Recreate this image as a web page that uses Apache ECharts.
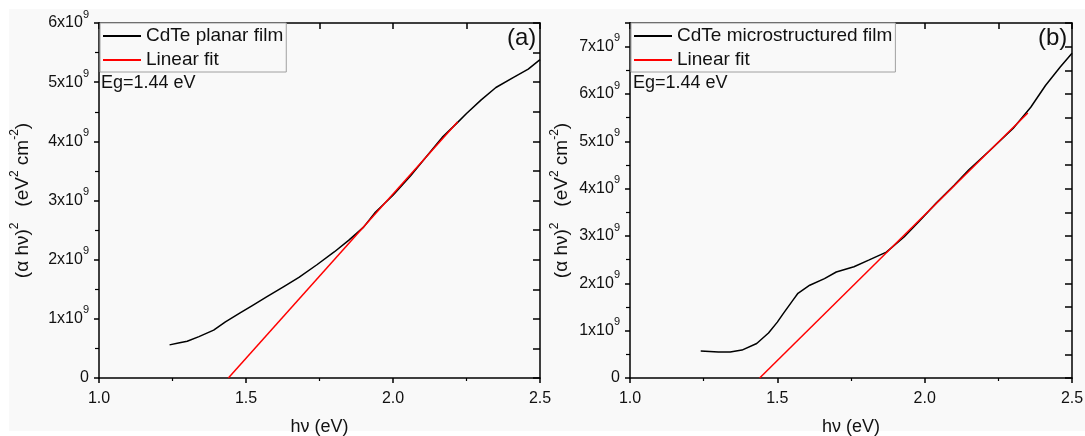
<!DOCTYPE html>
<html>
<head>
<meta charset="utf-8">
<script src="https://cdn.jsdelivr.net/npm/echarts@6/dist/echarts.min.js"></script>
<style>
  html, body { margin: 0; padding: 0; background: #ffffff; }
  #chart { width: 1085px; height: 436px; }
</style>
</head>
<body>
<div id="chart"></div>
<script>
// ---- data (x in eV, y in units of 1e9 eV^2 cm^-2) ----
const planarX = [1.24, 1.27, 1.30, 1.34, 1.39, 1.43, 1.48, 1.52, 1.57, 1.63, 1.68, 1.74, 1.80, 1.85, 1.90, 1.94, 2.00, 2.06, 2.13, 2.17, 2.22, 2.25, 2.30, 2.35, 2.41, 2.46, 2.50];
const planarY = [0.56, 0.59, 0.62, 0.70, 0.81, 0.95, 1.10, 1.22, 1.37, 1.55, 1.70, 1.91, 2.13, 2.33, 2.55, 2.80, 3.09, 3.42, 3.84, 4.08, 4.32, 4.47, 4.70, 4.91, 5.08, 5.22, 5.38];
const planarFitX = [1.44, 2.22];
const planarFitY = [0.0, 4.33];

const microX = [1.24, 1.27, 1.30, 1.34, 1.38, 1.43, 1.47, 1.50, 1.52, 1.55, 1.57, 1.61, 1.66, 1.70, 1.76, 1.81, 1.87, 1.93, 1.98, 2.04, 2.10, 2.15, 2.22, 2.30, 2.36, 2.41, 2.46, 2.50];
const microY = [0.57, 0.56, 0.55, 0.55, 0.59, 0.73, 0.95, 1.18, 1.36, 1.62, 1.79, 1.96, 2.10, 2.24, 2.35, 2.49, 2.66, 2.98, 3.30, 3.70, 4.07, 4.40, 4.80, 5.27, 5.72, 6.18, 6.57, 6.86];
const microFitX = [1.44, 2.35];
const microFitY = [0.0, 5.60];

const xTicks = [1.0, 1.5, 2.0, 2.5];
const seriesNames = ['CdTe planar film', 'CdTe microstructured film', 'Linear fit'];
const panelLabels = ['(a)', '(b)'];
const egText = 'Eg=1.44 eV';
const SCALE = 1e9;

function pairs(xs, ys) { return xs.map((x, i) => [x, ys[i] * SCALE]); }

const FONT = 'Liberation Sans, Arial, sans-serif';
const INK = '#111';

function fmtY(v) {
  if (v === 0) return '{b|0}';
  const k = v / SCALE;
  const r = Math.round(k);
  if (Math.abs(k - r) > 1e-6) return '';
  return '{b|' + r + 'x10}{s|9}';
}
const yRich = {
  b: { fontSize: 16, lineHeight: 16, fontFamily: FONT, color: INK, verticalAlign: 'middle' },
  s: { fontSize: 11, lineHeight: 11, fontFamily: FONT, color: INK, padding: [0, 0, 17, 0], verticalAlign: 'middle' }
};
const nameRich = {
  n: { fontSize: 19, lineHeight: 19, fontFamily: FONT, color: INK, verticalAlign: 'middle' },
  s: { fontSize: 12, lineHeight: 12, fontFamily: FONT, color: INK, padding: [0, 0, 15, 0], verticalAlign: 'middle' }
};
const yName = '{n|(\u03b1 h\u03bd)}{s|2}{n|   (eV}{s|2}{n| cm}{s|-2}{n|)}';

const grids = [
  { left: 99, top: 23, width: 441, height: 355, outerBoundsMode: 'none', containLabel: false },
  { left: 630, top: 23, width: 442, height: 355, outerBoundsMode: 'none', containLabel: false }
];
const yMax = [6e9, 7.5e9];
const nameGaps = [67, 45];

const xAxes = [], yAxes = [];
grids.forEach((g, i) => {
  xAxes.push({
    gridIndex: i, type: 'value', position: 'bottom', min: 1, max: 2.5, interval: 0.5,
    name: 'h\u03bd (eV)', nameLocation: 'middle', nameGap: 40,
    nameTextStyle: { fontSize: 18, fontFamily: FONT, color: INK },
    axisLine: { show: true, onZero: false, lineStyle: { color: '#000', width: 1.5 } },
    axisTick: { show: true, inside: false, length: 5, lineStyle: { color: '#000', width: 1.5 } },
    minorTick: { show: true, splitNumber: 2, length: 3, lineStyle: { color: '#000', width: 1.2 } },
    axisLabel: { show: true, margin: 13, fontSize: 16, fontFamily: FONT, color: INK,
      formatter: v => v.toFixed(1) },
    splitLine: { show: false }
  });
  xAxes.push({
    gridIndex: i, type: 'value', position: 'top', min: 1, max: 2.5, interval: 0.25,
    axisLine: { show: true, onZero: false, lineStyle: { color: '#000', width: 1.5 } },
    axisTick: { show: true, inside: true, length: 6, lineStyle: { color: '#000', width: 1.5 } },
    axisLabel: { show: false }, splitLine: { show: false }
  });
  yAxes.push({
    gridIndex: i, type: 'value', position: 'left', min: 0, max: yMax[i], interval: 1e9,
    name: yName, nameLocation: 'middle', nameRotate: 90, nameGap: nameGaps[i],
    nameTextStyle: { rich: nameRich },
    axisLine: { show: true, onZero: false, lineStyle: { color: '#000', width: 1.5 } },
    axisTick: { show: true, inside: false, length: 5, lineStyle: { color: '#000', width: 1.5 } },
    minorTick: { show: true, splitNumber: 2, length: 4, lineStyle: { color: '#000', width: 1.2 } },
    axisLabel: { show: true, margin: 10, formatter: fmtY, rich: yRich, showMaxLabel: i === 0 },
    splitLine: { show: false }
  });
  yAxes.push({
    gridIndex: i, type: 'value', position: 'right', min: 0, max: yMax[i], interval: 0.5e9,
    axisLine: { show: true, onZero: false, lineStyle: { color: '#000', width: 1.5 } },
    axisTick: { show: true, inside: true, length: 7, lineStyle: { color: '#000', width: 1.5 } },
    axisLabel: { show: false }, splitLine: { show: false }
  });
});

function lineSeries(name, data, gi, color) {
  return {
    name: name, type: 'line', xAxisIndex: gi * 2, yAxisIndex: gi * 2,
    data: data, showSymbol: false, symbol: 'none', smooth: false,
    lineStyle: { color: color, width: 1.5 }, itemStyle: { color: color },
    emphasis: { disabled: true }, silent: true
  };
}

const series = [
  lineSeries(seriesNames[0], pairs(planarX, planarY), 0, '#000000'),
  lineSeries(seriesNames[2], pairs(planarFitX, planarFitY), 0, '#ff0000'),
  lineSeries(seriesNames[1], pairs(microX, microY), 1, '#000000'),
  lineSeries(seriesNames[2], pairs(microFitX, microFitY), 1, '#ff0000')
];

function legendAt(left, names) {
  return {
    left: left, top: 23, orient: 'vertical', data: names,
    icon: 'rect', itemWidth: 38, itemHeight: 2, itemGap: 4,
    padding: [3, 3, 2, 3],
    borderColor: '#a0a0a0', borderWidth: 1, backgroundColor: '#f9f9f9',
    textStyle: { fontSize: 19, lineHeight: 20, fontFamily: FONT, color: INK },
    selectedMode: false
  };
}

const option = {
  animation: false,
  backgroundColor: 'transparent',
  grid: grids,
  xAxis: xAxes,
  yAxis: yAxes,
  series: series,
  legend: [
    legendAt(100, [seriesNames[0], seriesNames[2]]),
    legendAt(631, [seriesNames[1], seriesNames[2]])
  ],
  graphic: [
    { type: 'rect', z: -100, silent: true, shape: { x: 9, y: 9, width: 1076, height: 422 }, style: { fill: '#f9f9f9' } },
    { type: 'text', left: 101, top: 74, silent: true, style: { text: egText, fontSize: 18, fontFamily: FONT, fill: INK } },
    { type: 'text', left: 633, top: 74, silent: true, style: { text: egText, fontSize: 18, fontFamily: FONT, fill: INK } },
    { type: 'text', left: 507, top: 26, silent: true, style: { text: panelLabels[0], fontSize: 24, fontFamily: FONT, fill: INK } },
    { type: 'text', left: 1038, top: 26, silent: true, style: { text: panelLabels[1], fontSize: 24, fontFamily: FONT, fill: INK } }
  ]
};

const chart = echarts.init(document.getElementById('chart'), null, { renderer: 'canvas' });
chart.setOption(option);
</script>
</body>
</html>
